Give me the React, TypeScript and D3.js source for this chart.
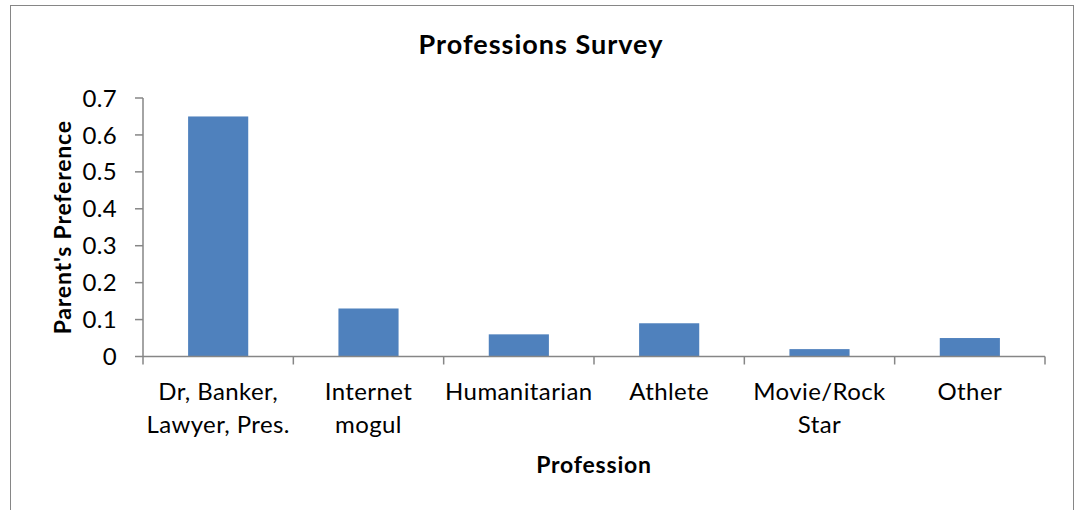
import React from "react";
import * as d3 from "d3";

const categories: string[][] = [
  ["Dr, Banker,", "Lawyer, Pres."],
  ["Internet", "mogul"],
  ["Humanitarian"],
  ["Athlete"],
  ["Movie/Rock", "Star"],
  ["Other"],
];
const values: number[] = [0.65, 0.13, 0.06, 0.09, 0.02, 0.05];
const yTicks: number[] = [0, 0.1, 0.2, 0.3, 0.4, 0.5, 0.6, 0.7];
const title = "Professions Survey";
const xTitle = "Profession";
const yTitle = "Parent's Preference";

const W = 1074;
const H = 510;
const left = 143;
const right = 1045;
const top = 98;
const bottom = 356.5;
const font = "Lato, 'Open Sans', sans-serif";
const axisColor = "#868686";
const barColor = "#4F81BD";

export default function App() {
  const idx = categories.map((_, i) => String(i));
  const x = d3.scaleBand<string>().domain(idx).range([left, right]).paddingInner(0.6).paddingOuter(0.3);
  const y = d3.scaleLinear().domain([0, 0.7]).range([bottom, top]);
  const step = x.step();
  const boundaries = d3.range(categories.length + 1).map((i) => left + i * step);

  return (
    <svg width={W} height={H} style={{ position: "absolute", left: 0, top: 0, background: "#fff" }}>
      <rect x={10.5} y={5.5} width={1063} height={530} fill="#fff" stroke={axisColor} strokeWidth={1} />
      <text x={541} y={54} textAnchor="middle" fontFamily={font} fontWeight="bold" fontSize={27} letterSpacing={1} fill="#000">
        {title}
      </text>
      {values.map((v, i) => (
        <rect key={i} x={x(String(i))} y={y(v)} width={x.bandwidth()} height={y(0) - y(v)} fill={barColor} />
      ))}
      <line x1={left} x2={left} y1={top} y2={bottom} stroke={axisColor} strokeWidth={1.5} />
      {yTicks.map((t) => (
        <g key={t}>
          <line x1={left - 8} x2={left} y1={y(t)} y2={y(t)} stroke={axisColor} strokeWidth={1.5} />
          <text x={117} y={y(t)} dy="0.36em" textAnchor="end" fontFamily={font} fontSize={24} letterSpacing={0.3} fill="#000">
            {t === 0 ? "0" : t.toFixed(1)}
          </text>
        </g>
      ))}
      <line x1={left} x2={right} y1={bottom} y2={bottom} stroke={axisColor} strokeWidth={1.5} />
      {boundaries.map((b, i) => (
        <line key={i} x1={b} x2={b} y1={bottom} y2={bottom + 8} stroke={axisColor} strokeWidth={1.5} />
      ))}
      {categories.map((lines, i) => (
        <text key={i} textAnchor="middle" fontFamily={font} fontSize={24} letterSpacing={0.4} fill="#000">
          {lines.map((ln, j) => (
            <tspan key={j} x={(x(String(i)) as number) + x.bandwidth() / 2} y={400 + j * 33}>
              {ln}
            </tspan>
          ))}
        </text>
      ))}
      <text x={594} y={473} textAnchor="middle" fontFamily={font} fontWeight="bold" fontSize={23} letterSpacing={0.8} fill="#000">
        {xTitle}
      </text>
      <text
        transform={`translate(71, ${(top + bottom) / 2}) rotate(-90)`}
        textAnchor="middle"
        fontFamily={font}
        fontWeight="bold"
        fontSize={23}
        letterSpacing={0.8}
        fill="#000"
      >
        {yTitle}
      </text>
    </svg>
  );
}
